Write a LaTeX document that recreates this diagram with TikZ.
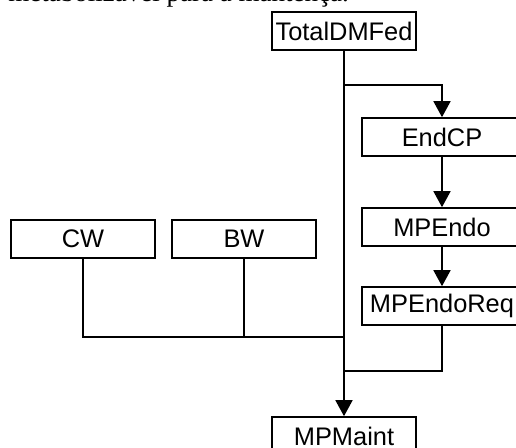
\documentclass[tikz,border=0pt]{standalone}
\usepackage{fontspec}
\setmainfont{Liberation Sans}
\newfontfamily\bodyserif{Liberation Serif}
\usetikzlibrary{positioning,arrows.meta}

\begin{document}
\begin{tikzpicture}[
    x=0.5pt, y=-0.5pt,
    >={Triangle[length=8pt,width=8.5pt]},
    block/.style     = {draw, line width=0.8pt, minimum width=72pt,
                        minimum height=19pt, inner sep=0pt,
                        font=\fontsize{12.7pt}{15pt}\selectfont},
    wideblock/.style = {block, minimum width=80pt},
    link/.style      = {draw, line width=0.8pt}
]
\useasboundingbox (0,0) rectangle (516,448);

% =========================================================
% BODY TEXT ABOVE THE FIGURE (CUT BY THE PAGE)
% =========================================================
\node[anchor=base west, inner sep=0pt,
      font=\bodyserif\fontsize{13.5pt}{16pt}\selectfont] (caption) at (8,2)
  {metabolizável para a mantença.};

% =========================================================
% MAIN COLUMN
% =========================================================
\node[block] (total)   at (344,31)  {TotalDMFed};
\node[block] (mpmaint) at (344,436) {MPMaint};

% =========================================================
% RIGHT CHAIN
% =========================================================
\node[wideblock] (endcp)     at (442,137) {EndCP};
\node[wideblock] (mpendo)    at (442,227) {MPEndo};
\node[wideblock] (mpendoreq) at (442,306) {MPEndoReq};

% =========================================================
% LEFT INPUTS
% =========================================================
\node[block] (cw) at (83,239)  {CW};
\node[block] (bw) at (244,239) {BW};

% =========================================================
% JUNCTIONS
% =========================================================
\coordinate (split)   at (total.south |- 0,85);
\coordinate (collect) at (total.south |- 0,337);
\coordinate (rejoin)  at (total.south |- 0,371);

% =========================================================
% ARROWS
% =========================================================
\path[link, ->] (total) -- (mpmaint);
\path[link, ->] (split) -| (endcp);
\path[link, ->] (endcp) -- (mpendo);
\path[link, ->] (mpendo) -- (mpendoreq);
\path[link] (mpendoreq) |- (rejoin);
\path[link] (cw) |- (collect);
\path[link] (bw) -- (bw.south |- collect);

\end{tikzpicture}
\end{document}
